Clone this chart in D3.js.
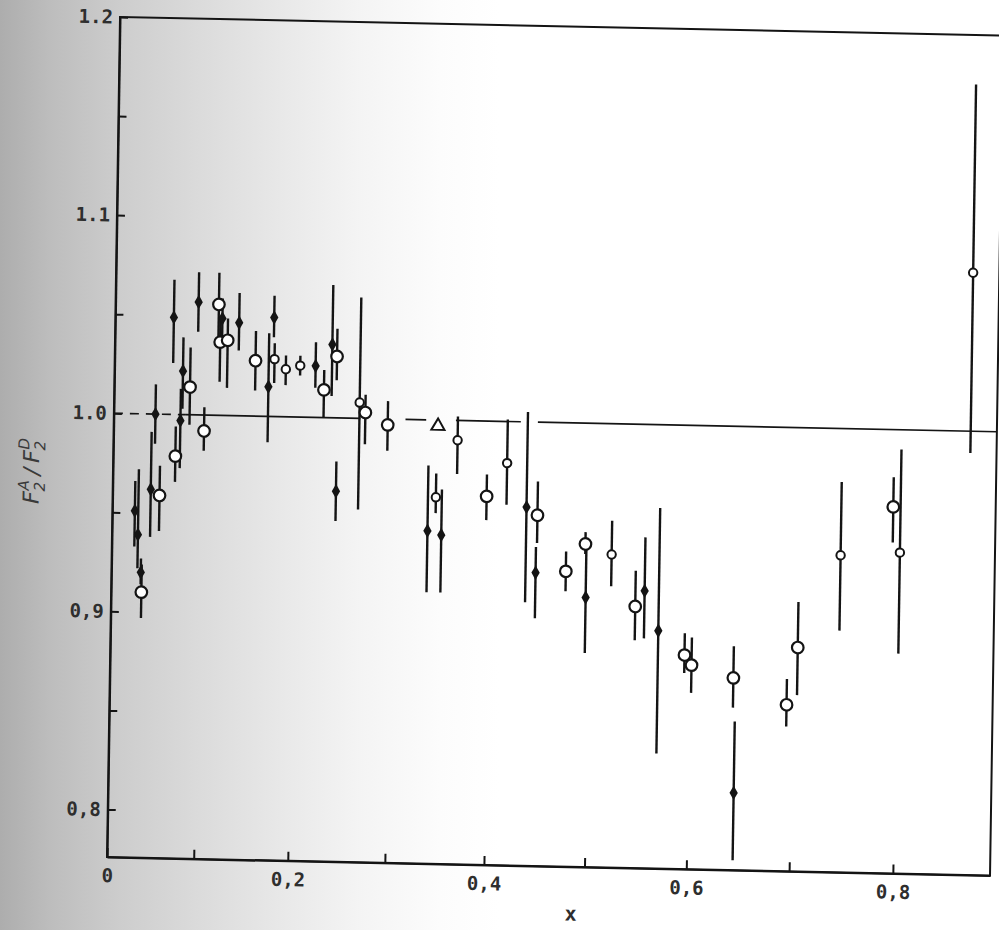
<!DOCTYPE html>
<html>
<head>
<meta charset="utf-8">
<script src="https://cdn.jsdelivr.net/npm/d3@7/dist/d3.min.js"></script>
<style>
    html, body { margin: 0; padding: 0; background: #fff; }
    svg { display: block; }
</style>
</head>
<body>
<div id="graph"></div>
<script>
// F2(A)/F2(D) against x

// filled (small diamond) points
const filledX  = [0.028, 0.032, 0.036, 0.046, 0.050, 0.078, 0.080, 0.069, 0.096, 0.122, 0.140, 0.177, 0.172, 0.221, 0.238, 0.244, 0.338, 0.352, 0.437, 0.447, 0.497, 0.555, 0.569, 0.645];
const filledR  = [0.951, 0.939, 0.920, 0.962, 1.000, 0.997, 1.022, 1.049, 1.057, 1.049, 1.047, 1.050, 1.015, 1.026, 1.037, 0.963, 0.944, 0.942, 0.957, 0.924, 0.912, 0.916, 0.896, 0.815];
const filledLo = [0.933, 0.922, 0.914, 0.938, 0.985, 0.973, 1.003, 1.026, 1.042, 1.038, 1.033, 1.040, 0.987, 1.015, 1.011, 0.948, 0.913, 0.913, 0.909, 0.901, 0.884, 0.892, 0.834, 0.781];
const filledHi = [0.966, 0.972, 0.927, 0.991, 1.015, 1.013, 1.039, 1.068, 1.072, 1.059, 1.062, 1.061, 1.042, 1.038, 1.067, 0.978, 0.977, 0.965, 1.005, 0.937, 0.942, 0.943, 0.958, 0.851];

// open circles
const openX  = [0.037, 0.056, 0.073, 0.088, 0.104, 0.118, 0.120, 0.128, 0.158, 0.230, 0.243, 0.273, 0.296, 0.397, 0.448, 0.477, 0.496, 0.546, 0.595, 0.602, 0.643, 0.695, 0.705, 0.795];
const openR  = [0.910, 0.959, 0.979, 1.014, 0.992, 1.056, 1.037, 1.038, 1.028, 1.014, 1.031, 1.003, 0.997, 0.962, 0.953, 0.925, 0.939, 0.908, 0.884, 0.879, 0.873, 0.860, 0.889, 0.961];
const openLo = [0.897, 0.941, 0.966, 0.995, 0.982, 1.037, 1.017, 1.014, 1.013, 1.000, 1.019, 0.987, 0.984, 0.950, 0.939, 0.915, 0.934, 0.891, 0.875, 0.865, 0.858, 0.849, 0.865, 0.943];
const openHi = [0.924, 0.974, 0.994, 1.034, 1.004, 1.072, 1.049, 1.049, 1.043, 1.024, 1.045, 1.012, 1.009, 0.973, 0.970, 0.935, 0.945, 0.926, 0.895, 0.893, 0.889, 0.873, 0.912, 0.976];

// small open points
const smallX  = [0.178, 0.190, 0.205, 0.267, 0.346, 0.367, 0.417, 0.522, 0.745, 0.802, 0.868];
const smallR  = [1.029, 1.024, 1.026, 1.008, 0.961, 0.990, 0.979, 0.934, 0.936, 0.938, 1.080];
const smallLo = [1.017, 1.016, 1.021, 0.954, 0.953, 0.973, 0.958, 0.918, 0.898, 0.887, 0.989];
const smallHi = [1.037, 1.031, 1.031, 1.061, 0.973, 1.002, 1.001, 0.951, 0.973, 0.990, 1.175];

// open triangle
const triX = [0.347];
const triR = [0.997];

// pieces of the ratio = 1 reference line [from, to, dashed]
const refSegments = [[0, 0.083, true], [0.083, 0.268, false], [0.314, 0.335, false], [0.365, 0.430, false], [0.447, 0.893, false]];

const xTicks = [0, 0.1, 0.2, 0.3, 0.4, 0.5, 0.6, 0.7, 0.8];
const xTickLabels = {0: "0", 0.2: "0,2", 0.4: "0,4", 0.6: "0,6", 0.8: "0,8"};
const yTicks = [0.8, 0.85, 0.9, 0.95, 1.0, 1.05, 1.1, 1.15, 1.2];
const yTickLabels = {0.8: "0,8", 0.9: "0,9", 1.0: "1.0", 1.1: "1.1", 1.2: "1.2"};

let width = 999;
let height = 930;
let plotW = 883;
let plotH = 840;
let ink = "#141414";

let svg = d3.select("#graph")
    .append("svg")
    .attr("width", width)
    .attr("height", height);

// grey shadow of the page bending into the gutter
let grad = svg.append("defs").append("linearGradient")
    .attr("id", "gutter")
    .attr("x1", "0").attr("x2", "1").attr("y1", "0").attr("y2", "0");
[[0, "#adadad"], [0.05, "#bdbdbd"], [0.12, "#cdcdcd"], [0.2, "#dbdbdb"], [0.28, "#e8e8e8"], [0.36, "#f4f4f4"], [0.44, "#fcfcfc"], [0.5, "#ffffff"]]
    .forEach(s => grad.append("stop").attr("offset", s[0]).attr("stop-color", s[1]));

svg.append("rect")
    .attr("width", width)
    .attr("height", height)
    .attr("fill", "url(#gutter)");

// the scan is slightly skewed, so the whole plot sits in a sheared frame
let g = svg.append("g")
    .attr("transform", "matrix(1, 0.021, -0.0155, 1, 107, 857)");

// the left side of the page is squeezed a little by the curvature
let x = d3.scalePow().exponent(1.06).domain([0, 0.893]).range([0, plotW]);
let y = d3.scaleLinear().domain([0.776, 1.2]).range([0, -plotH]);

// frame
g.append("rect")
    .attr("x", 0)
    .attr("y", -plotH)
    .attr("width", plotW)
    .attr("height", plotH)
    .attr("fill", "none")
    .attr("stroke", ink)
    .attr("stroke-width", 2);

let xAxis = g.append("g")
    .call(d3.axisBottom(x)
        .tickValues(xTicks)
        .tickSizeInner(-9)
        .tickSizeOuter(0)
        .tickPadding(10)
        .tickFormat(d => xTickLabels[d] || ""));

let yAxis = g.append("g")
    .call(d3.axisLeft(y)
        .tickValues(yTicks)
        .tickSizeInner(-8)
        .tickSizeOuter(0)
        .tickPadding(7)
        .tickFormat(d => yTickLabels[d] || ""));

[xAxis, yAxis].forEach(a => {
    a.select(".domain").attr("stroke", ink).attr("stroke-width", 2);
    a.selectAll(".tick line").attr("stroke", ink).attr("stroke-width", 2);
    a.selectAll(".tick text")
        .attr("fill", "#2e2e2e")
        .style("font-family", "'DejaVu Sans Mono', 'Liberation Mono', monospace")
        .style("font-weight", "bold")
        .style("font-size", "19px");
});
xAxis.selectAll(".tick text").attr("dy", "0.8em");

g.append("text")
    .attr("x", x(0.487))
    .attr("y", 54)
    .attr("text-anchor", "middle")
    .attr("fill", "#2e2e2e")
    .style("font-family", "'DejaVu Sans Mono', monospace")
    .style("font-weight", "bold")
    .style("font-size", "20px")
    .text("x");

// y title  F2^A / F2^D
let title = g.append("text")
    .attr("transform", "translate(-74," + (y(0.97)) + ") rotate(-90)")
    .attr("text-anchor", "middle")
    .attr("fill", "#3a3a3a")
    .style("font-family", "'DejaVu Sans', sans-serif")
    .style("font-style", "italic")
    .style("font-size", "22px");
title.append("tspan").text("F");
title.append("tspan").attr("dy", 6).style("font-size", "15px").text("2");
title.append("tspan").attr("dx", -9).attr("dy", -16).style("font-size", "15px").text("A");
title.append("tspan").attr("dx", 5).attr("dy", 10).text("/");
title.append("tspan").attr("dx", 5).text("F");
title.append("tspan").attr("dy", 6).style("font-size", "15px").text("2");
title.append("tspan").attr("dx", -9).attr("dy", -16).style("font-size", "15px").text("D");

// ratio = 1 line
g.selectAll(".ref")
    .data(refSegments)
    .enter().append("line")
    .attr("class", "ref")
    .attr("x1", d => x(d[0]))
    .attr("x2", d => x(d[1]))
    .attr("y1", y(1))
    .attr("y2", y(1))
    .attr("stroke", ink)
    .attr("stroke-width", 1.7)
    .attr("stroke-dasharray", d => d[2] ? "9,7" : null);

function drawBars(xs, lo, hi, cls) {
    g.selectAll("." + cls)
        .data(xs)
        .enter().append("line")
        .attr("class", cls)
        .attr("x1", d => x(d))
        .attr("x2", d => x(d))
        .attr("y1", (d, i) => y(lo[i]))
        .attr("y2", (d, i) => y(hi[i]))
        .attr("stroke", ink)
        .attr("stroke-width", 2.4);
}

drawBars(filledX, filledLo, filledHi, "fbar");
drawBars(openX, openLo, openHi, "obar");
drawBars(smallX, smallLo, smallHi, "sbar");

g.selectAll(".filled")
    .data(filledX)
    .enter().append("path")
    .attr("class", "filled")
    .attr("d", d3.symbol().type(d3.symbolDiamond).size(60))
    .attr("transform", (d, i) => "translate(" + x(d) + "," + y(filledR[i]) + ")")
    .attr("fill", ink);

g.selectAll(".open")
    .data(openX)
    .enter().append("circle")
    .attr("class", "open")
    .attr("cx", d => x(d))
    .attr("cy", (d, i) => y(openR[i]))
    .attr("r", 5.8)
    .attr("fill", "#fff")
    .attr("stroke", ink)
    .attr("stroke-width", 2.2);

g.selectAll(".small")
    .data(smallX)
    .enter().append("circle")
    .attr("class", "small")
    .attr("cx", d => x(d))
    .attr("cy", (d, i) => y(smallR[i]))
    .attr("r", 4.2)
    .attr("fill", "#fff")
    .attr("stroke", ink)
    .attr("stroke-width", 2);

g.selectAll(".tri")
    .data(triX)
    .enter().append("path")
    .attr("class", "tri")
    .attr("d", d3.symbol().type(d3.symbolTriangle).size(75))
    .attr("transform", (d, i) => "translate(" + x(d) + "," + y(triR[i]) + ")")
    .attr("fill", "#fff")
    .attr("stroke", ink)
    .attr("stroke-width", 2);
</script>
</body>
</html>
